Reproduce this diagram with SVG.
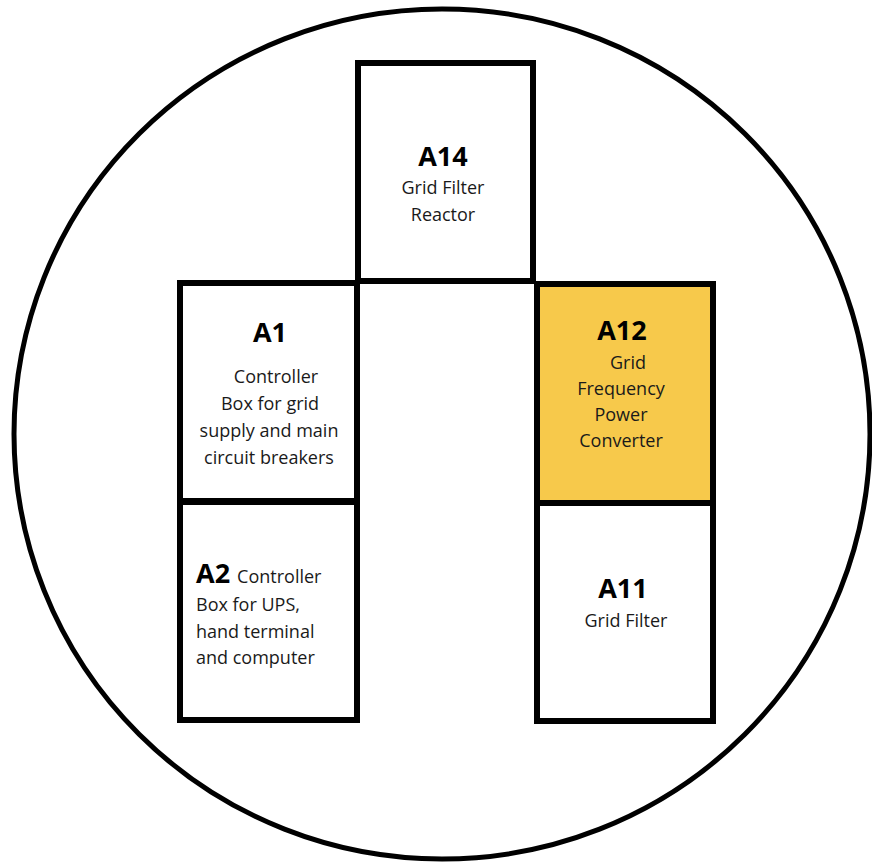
<svg xmlns="http://www.w3.org/2000/svg" width="872" height="865" viewBox="0 0 872 865">
<style>
.box{fill:#ffffff;stroke:#000000;stroke-width:6}
.hl{fill:#F7C94B}
.t{font-family:"Open Sans","Noto Sans","Liberation Sans",sans-serif;font-size:18px;fill:#1a1a1a}
.b{font-family:"Open Sans","Noto Sans","Liberation Sans",sans-serif;font-size:27px;font-weight:bold;fill:#000000}
.m{text-anchor:middle}
</style>
<rect width="872" height="865" fill="#ffffff"/>
<ellipse id="outline" cx="442" cy="434" rx="428" ry="425" fill="none" stroke="#000000" stroke-width="5"/>
<g id="A14">
<rect class="box" x="358" y="63" width="175" height="218"/>
<text class="b m" x="443" y="166">A14</text>
<text class="t m" x="443" y="194">Grid Filter</text>
<text class="t m" x="443" y="221">Reactor</text>
</g>
<g id="A1">
<rect class="box" x="180" y="283" width="177" height="218"/>
<text class="b m" x="270" y="342">A1</text>
<text class="t m" x="276" y="383">Controller</text>
<text class="t m" x="270" y="410">Box for grid</text>
<text class="t m" x="269" y="437">supply and main</text>
<text class="t m" x="269" y="464">circuit breakers</text>
</g>
<g id="A2">
<rect class="box" x="180" y="502" width="177" height="218"/>
<text x="196" y="583"><tspan class="b">A2</tspan><tspan class="t" dx="7">Controller</tspan></text>
<text class="t" x="196" y="611">Box for UPS,</text>
<text class="t" x="196" y="638">hand terminal</text>
<text class="t" x="196" y="664">and computer</text>
</g>
<g id="A12">
<rect class="box hl" x="537" y="284" width="176" height="219"/>
<text class="b m" x="622" y="340">A12</text>
<text class="t m" x="628" y="369">Grid</text>
<text class="t m" x="621" y="395">Frequency</text>
<text class="t m" x="621" y="421">Power</text>
<text class="t m" x="621" y="447">Converter</text>
</g>
<g id="A11">
<rect class="box" x="537" y="503" width="176" height="218"/>
<text class="b m" x="623" y="598">A11</text>
<text class="t m" x="626" y="627">Grid Filter</text>
</g>
<g id="connectors"></g>
</svg>
